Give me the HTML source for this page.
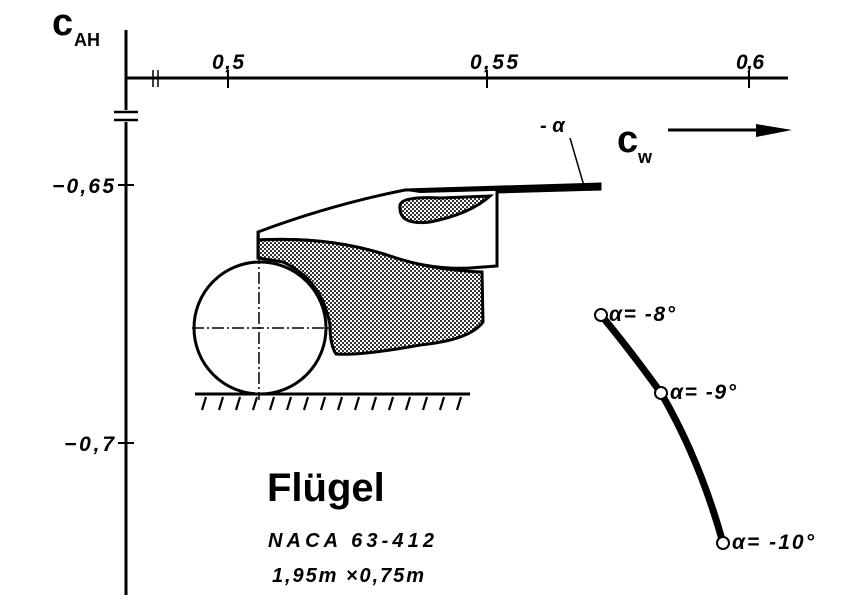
<!DOCTYPE html>
<html><head><style>html,body{margin:0;padding:0;background:#fff}svg{display:block}</style></head><body>
<svg width="864" height="604" viewBox="0 0 864 604" xmlns="http://www.w3.org/2000/svg" font-family="Liberation Sans, sans-serif">
<defs>
<pattern id="dots" width="4" height="4" patternUnits="userSpaceOnUse">
<rect width="4" height="4" fill="#fff"/><rect width="2" height="2" fill="#333"/><rect x="2" y="2" width="2" height="2" fill="#333"/>
</pattern>
</defs>
<line x1="126" y1="30" x2="126" y2="595" stroke="#000" stroke-width="3"/>
<line x1="126" y1="78" x2="788" y2="78" stroke="#000" stroke-width="3"/>
<line x1="153" y1="70" x2="153" y2="87" stroke="#000" stroke-width="1.5"/>
<line x1="158" y1="70" x2="158" y2="87" stroke="#000" stroke-width="1.5"/>
<rect x="114" y="110" width="24" height="12" fill="#fff"/>
<line x1="114" y1="112" x2="138" y2="112" stroke="#000" stroke-width="2.5"/>
<line x1="114" y1="120" x2="138" y2="120" stroke="#000" stroke-width="2.5"/>
<line x1="228" y1="70" x2="228" y2="88" stroke="#000" stroke-width="2"/>
<line x1="487" y1="70" x2="487" y2="88" stroke="#000" stroke-width="2"/>
<line x1="749" y1="70" x2="749" y2="88" stroke="#000" stroke-width="2"/>
<line x1="118" y1="185" x2="134" y2="185" stroke="#000" stroke-width="2"/>
<line x1="118" y1="443" x2="134" y2="443" stroke="#000" stroke-width="2"/>
<g font-style="italic" font-size="21" fill="#000" font-weight="bold">
<text x="212" y="69" textLength="32">0,5</text>
<text x="470" y="69" textLength="48">0,55</text>
<text x="736" y="69" textLength="28">0,6</text>
<text x="52" y="193" textLength="62">−0,65</text>
<text x="64" y="451" textLength="50">−0,7</text>
</g>
<text x="52" y="35" font-size="38" font-weight="bold">c</text>
<text x="74" y="46" font-size="18" font-weight="bold">AH</text>
<text x="617" y="152" font-size="38" font-weight="bold">c</text>
<text x="638" y="163" font-size="18" font-weight="bold">w</text>
<line x1="668" y1="130" x2="770" y2="130" stroke="#000" stroke-width="3"/>
<path d="M756 124 L792 130 L756 137 Z" fill="#000"/>
<text x="540" y="132" font-size="20" font-weight="bold" font-style="italic">- α</text>
<line x1="570" y1="138" x2="584" y2="186" stroke="#000" stroke-width="1.5"/>
<path d="M258 240 L258 232 Q330 205 405 190 L600 184 L600 189 L497 192 L497 266 L470 268 Q430 270 390 256 Q330 236 258 240 Z" fill="#fff" stroke="#000" stroke-width="3"/>
<path d="M400 190 L560 186 L600 184 L600 188 L560 189 L420 193 Z" fill="#000"/>
<path d="M400 205 Q402 196 440 198 L490 196 Q470 214 430 222 Q398 226 400 205 Z" fill="url(#dots)" stroke="#000" stroke-width="3"/>
<path d="M258 240 Q330 236 390 256 Q430 270 482 272 L483 322 Q470 340 420 345 Q360 356 336 354 Q330 345 330 325 Q322 280 283 262 L258 258 Z" fill="url(#dots)" stroke="#000" stroke-width="3"/>
<circle cx="260" cy="328" r="66" fill="#fff" stroke="#000" stroke-width="3"/>
<line x1="259" y1="232" x2="259" y2="400" stroke="#000" stroke-width="1.5" stroke-dasharray="12,3,2,3"/>
<line x1="192" y1="328" x2="330" y2="328" stroke="#000" stroke-width="1.5" stroke-dasharray="12,3,2,3"/>
<line x1="195" y1="394" x2="470" y2="394" stroke="#000" stroke-width="3"/>
<g stroke="#000" stroke-width="2.2">
<path d="M202 410 l4 -13 M219 410 l4 -13 M236 410 l4 -13 M253 410 l4 -13 M270 410 l4 -13 M287 410 l4 -13 M304 410 l4 -13 M321 410 l4 -13 M338 410 l4 -13 M355 410 l4 -13 M372 410 l4 -13 M389 410 l4 -13 M406 410 l4 -13 M423 410 l4 -13 M440 410 l4 -13 M457 410 l4 -13"/>
</g>
<path d="M601 315 Q630 350 661 393 Q700 460 723 543" fill="none" stroke="#000" stroke-width="7"/>
<g fill="#fff" stroke="#000" stroke-width="2">
<circle cx="601" cy="315" r="6"/><circle cx="661" cy="393" r="6"/><circle cx="723" cy="543" r="6"/>
</g>
<g font-size="21" font-style="italic" fill="#000" font-weight="bold">
<text x="609" y="321" textLength="66">α= -8°</text>
<text x="670" y="399" textLength="66">α= -9°</text>
<text x="732" y="549" textLength="82">α= -10°</text>
</g>
<text x="267" y="501" font-size="40" font-weight="bold">Flügel</text>
<text x="268" y="547" font-size="20" font-style="italic" font-weight="bold" textLength="166">NACA 63-412</text>
<text x="272" y="582" font-size="20" font-style="italic" font-weight="bold" textLength="152">1,95m ×0,75m</text>
</svg>
</body></html>
